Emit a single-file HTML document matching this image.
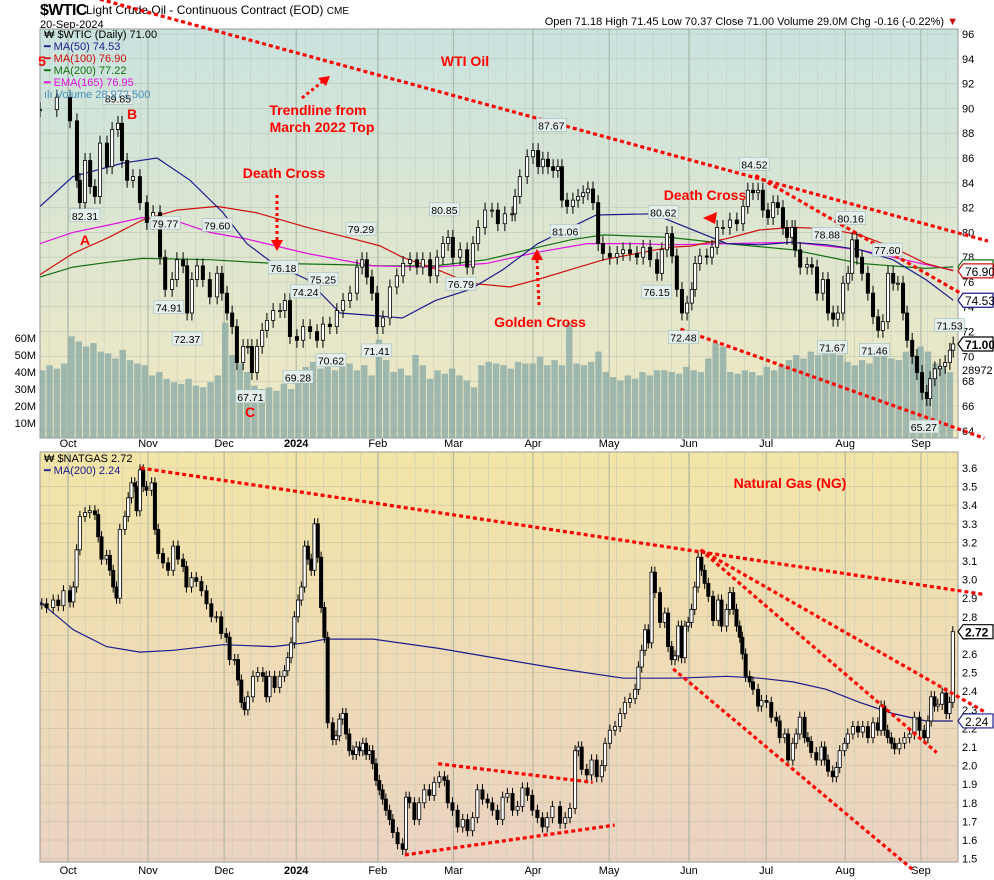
<!DOCTYPE html>
<html><head><meta charset="utf-8"><title>WTI and Natural Gas</title>
<style>
html,body{margin:0;padding:0;background:#fff;}
svg{display:block;font-family:"Liberation Sans",sans-serif;}
</style></head>
<body>
<svg id="chart" width="994" height="880" viewBox="0 0 994 880" xmlns="http://www.w3.org/2000/svg">
<defs>
<linearGradient id="gTop" x1="0" y1="0" x2="0" y2="1"><stop offset="0" stop-color="#c9e3df"/><stop offset="0.55" stop-color="#dfe6cf"/><stop offset="1" stop-color="#f1e8c0"/></linearGradient>
<linearGradient id="gBot" x1="0" y1="0" x2="0" y2="1"><stop offset="0" stop-color="#f2e5a6"/><stop offset="0.5" stop-color="#efdcb6"/><stop offset="1" stop-color="#ebd3c2"/></linearGradient>
<clipPath id="cTop"><rect x="40" y="29" width="918" height="409"/></clipPath>
<clipPath id="cBot"><rect x="40" y="452" width="918" height="410"/></clipPath>
</defs>
<g>
<text x="40" y="15" font-size="16" font-weight="bold" letter-spacing="-0.6">$WTIC</text>
<text x="86" y="14" font-size="12">Light Crude Oil - Continuous Contract (EOD) <tspan font-size="10">CME</tspan></text>
<text x="40" y="28" font-size="11">20-Sep-2024</text>
<text x="958" y="25" font-size="11" text-anchor="end">Open 71.18  High 71.45  Low 70.37  Close 71.00  Volume 29.0M  Chg -0.16 (-0.22%) <tspan fill="#c00">▼</tspan></text>
</g>
<rect x="40" y="29" width="918" height="409" fill="url(#gTop)" stroke="#999"/>
<rect x="40" y="452" width="918" height="410" fill="url(#gBot)" stroke="#999"/>
<g id="grid"></g>
<g id="vol" clip-path="url(#cTop)"></g>
<g id="wtiMarks" clip-path="url(#cTop)"></g>
<g id="ngMarks" clip-path="url(#cBot)"></g>
<g id="axes"></g>
<g id="annot"></g>
<g font-size="11">
<text x="44" y="38" fill="#000">₩ $WTIC (Daily) 71.00</text>
<text x="44" y="50" fill="#1c1c8c">━ MA(50) 74.53</text>
<text x="44" y="62" fill="#d01010">━ MA(100) 76.90</text>
<text x="44" y="74" fill="#157015">━ MA(200) 77.22</text>
<text x="44" y="86" fill="#e010e0">━ EMA(165) 76.95</text>
<text x="44" y="98" fill="#4a90b8">ılı Volume 28,972,500</text>
</g>
<g font-size="11">
<text x="44" y="462" fill="#000">₩ $NATGAS 2.72</text>
<text x="44" y="474" fill="#1c1c8c">━ MA(200) 2.24</text>
</g>
</svg>
<script>
// ---------- WTI data ----------
const wtiT=[0,4.6,8.2,10.1,10.9,12.3,13.7,15,16.4,18.3,19.7,21.3,22.4,23.8,25.4,27.3,29.2,30.9,32.8,34.2,36.1,37.4,39.1,40.2,41.5,42.9,44.5,46.4,48.4,49.7,51.1,52.5,53.8,55.5,56.8,57.9,59.3,60.7,62,63.7,65.6,66.9,68.3,70.2,71.9,73.8,75.7,77.3,79.2,81.1,82.8,84.7,86.6,88,89.3,90.7,92.1,93.7,95.6,97.5,99.2,101.1,103,104.6,106.6,108.5,110.1,111.5,112.8,114.8,116.7,118.3,119.7,121.6,123.5,125.1,127,129,129.8,131.1,133.1,134.7,136.1,137.4,138.8,140.2,141.5,142.6,144,145.6,147,148.4,149.7,151.1,152.5,153.8,155.7,157.7,159.3,161.2,163.1,164.8,166.7,168.6,169.9,171.3,172.7,174,175.4,176.8,178.1,179,180.3,182.2,183.6,185,186.6,188.5,190.4,192.1,193.4,194.8,196.2,197.5,198.9,200.3,201.6,203,204.1,205.5,206.3,207.7,209.6,210.9,212.3,213.9,215.3,216.7,218,219.4,220.8,221.9,223.2,224.6,226.2,227.6,229,230.3,231.7,233.1,234.4,235.8,236.9,238.3,239.6,241,242.3,243.2,244.5,245.9,247.3,248.6,249.5];
const wtiClose=[89.9,90.9,89,84.2,82.4,85.8,83.7,82.9,87.2,85.3,88.3,88.8,85.8,84.2,84.5,82.4,80.8,81.6,78,75.4,76.2,77.8,77.3,73.5,76.2,77.3,76.2,74.8,76.7,75.1,73.5,72.4,69.5,70.8,70.8,68.7,70.8,72.1,72.9,73.7,73.7,74.5,71.6,71.3,72.4,72,71.3,72.6,72.4,73.7,74.5,75.1,77.2,77.8,76.4,75.1,72.4,73.1,75.6,76.5,77.5,77.8,77.2,77.8,76.5,78,79.1,79.6,78,78.6,77.2,79.1,80.4,81.8,81.8,80.7,81.5,81.5,82.9,84.5,86.1,86.6,85.3,85.9,85.3,85,85.3,82.6,82.1,82.6,82.9,83.2,83.5,82.4,79.1,78.3,78,78.3,78.6,78.3,78,78.8,77.8,76.7,78.6,79.9,78.1,75.4,73.5,74.3,75.4,77.5,78.1,78,78.8,80.4,80.4,81,80.7,82.1,83.4,83.2,83.4,81.8,81.2,82.4,82,80.4,79.6,80.4,78.6,77.2,77.4,77.2,75.1,76.2,73.5,73,73.5,75.9,76.7,79.4,78,76.7,75.1,73.2,72.1,72.8,76.7,75.9,75.9,73.5,71.3,70,68.7,67.1,66.6,68.2,69,69.2,69.5,70.5,71];
const ma50T=[0,9,22.7,32,41,50,56.5,63.7,73,82,91,99,108,117.5,126.5,136,145,152,167.5,178.4,187.7,196.7,205.7,215,224,233,242,249.5];
const ma50V=[82.1,84.5,85.6,86,84.2,81.6,79.1,77.5,76.2,73.5,73.3,73.1,74.5,75.4,77,79.1,80.4,81.4,81.5,80.2,79.1,79,79.2,79,78.6,77.8,76.2,74.53];
const ma100T=[0,9,18.8,28,37.4,48.4,59,73,86.6,93,99,108.5,117.5,128.4,136,145,154,163,172,178,187.7,196.7,205.7,215,224,233,242,249.5];
const ma100V=[76.6,78.3,79.6,81,81.8,82.1,81.6,80.4,79.4,78.9,78,77,75.9,75.6,76.2,77,77.8,78.3,78.8,78.9,79.5,80.2,80.4,80.3,79.8,78.8,77.5,76.9];
const ma200T=[0,9,18.8,28,46.4,63.7,82,93,108,122,136,145,154,172,187.7,205.7,224,242,249.5];
const ma200V=[76.4,77.2,77.6,77.9,77.8,77.5,77.4,77.3,77.3,77.8,78.8,79.4,79.8,79.6,79.1,78.6,77.5,77.1,77.22];
const emaT=[0,9,18.8,28,37.4,46.4,56,73,91,108,122,136,149.5,163,172,187.7,205.7,224,233,242,249.5];
const emaV=[79.1,80,80.6,81.2,80.9,80,79.5,78.3,77.3,77.2,77.5,78.4,79.1,79.1,79,79.1,79.2,78.6,78,77.4,76.95];
const volM=[41,44,42,45,61,58,55,57,52,51,48,53,47,45,44,38,40,36,34,33,36,32,31,34,38,69,50,45,40,32,30,31,29,33,30,40,43,46,42,44,41,43,45,41,44,38,59,47,40,42,38,50,44,36,41,39,42,38,35,31,44,46,45,44,42,46,45,45,49,44,47,44,69,45,44,46,52,40,37,35,38,36,40,38,41,41,40,39,43,41,40,48,57,55,40,39,41,40,38,43,41,44,47,50,48,52,50,58,55,50,46,44,47,45,51,53,48,47,52,50,55,52,45,43,40];
// ---------- NatGas data ----------
const ngT=[0.5,1.8,3.6,5,6.4,8.2,9.1,10,10.9,12.3,13.6,15,15.9,16.8,18.2,19.1,20,20.9,21.8,23.2,24.1,25,25.9,26.4,27.3,28.2,29.1,30.5,31.4,32.3,33.6,35,36.4,37.7,39.1,40,41.4,42.7,44.1,45.5,46.8,48.2,49.5,50.9,51.8,53.2,54.1,55,55.9,56.8,58.2,59.5,60.9,61.8,62.7,64.1,65.5,66.8,67.7,68.6,69.5,70.5,71.4,72.3,73.2,74.1,75,75.9,76.8,77.7,78.6,80,80.9,81.8,82.7,83.6,84.5,85.5,86.4,87.3,88.2,89.1,90,90.9,91.8,92.7,93.6,94.5,95.5,96.4,97.7,99.1,100,100.9,102.3,103.6,105,106.4,107.7,109.1,110.5,111.4,112.7,114.1,115.5,116.8,118.2,119.5,120.9,122.3,123.6,125,126.4,127.7,129.1,130.5,131.8,133.2,134.5,135.9,137.3,138.6,140,142.1,143.5,144.8,146.2,147.1,148,149.4,150.7,152.1,153.5,154.4,155.7,157.1,158.5,159.8,161.2,162.6,163.5,164.4,165.3,166.2,167.1,168,169.4,170.7,171.6,172.6,173.5,174.4,175.3,176.2,177.1,178,178.9,179.8,180.7,181.6,182.6,183.9,185.3,186.2,187.6,188.5,189.4,190.3,191.2,191.9,192.8,193.9,194.8,196.2,197.1,198.5,199.8,201.2,202.1,203.5,204.4,205.7,206.6,207.6,208.9,209.8,210.7,212.1,213.5,214.4,215.3,216.6,217.6,218.5,219.8,220.7,222.1,223.5,224.8,226.2,227.6,228.9,229.8,230.7,231.6,232.6,233.5,234.8,236.2,237.6,238.9,240.3,241.6,242.6,243.5,244.4,245.3,246.5,247.6,248.5,249.4];
const ngClose=[2.87,2.85,2.89,2.86,2.94,2.88,2.96,3.16,3.34,3.36,3.37,3.35,3.23,3.11,3.13,3.05,2.96,2.90,3.27,3.34,3.44,3.52,3.50,3.37,3.59,3.50,3.48,3.52,3.27,3.14,3.09,3.05,3.18,3.11,3.07,2.96,3.01,2.99,2.94,2.87,2.80,2.80,2.71,2.69,2.57,2.57,2.46,2.34,2.30,2.37,2.48,2.50,2.48,2.37,2.48,2.42,2.48,2.51,2.58,2.66,2.80,2.89,2.96,3.18,3.11,3.05,3.30,3.12,2.85,2.69,2.23,2.14,2.16,2.25,2.28,2.17,2.08,2.06,2.10,2.08,2.12,2.06,2.08,2.01,1.92,1.87,1.82,1.76,1.71,1.64,1.58,1.55,1.83,1.80,1.71,1.80,1.87,1.84,1.91,1.94,1.92,1.80,1.76,1.67,1.71,1.65,1.72,1.87,1.82,1.80,1.76,1.71,1.83,1.85,1.76,1.78,1.88,1.84,1.76,1.72,1.67,1.72,1.78,1.69,1.72,1.77,2.08,2.10,1.98,1.95,2.03,1.94,2.00,2.12,2.19,2.21,2.28,2.34,2.36,2.41,2.53,2.62,2.73,2.66,3.04,2.93,2.77,2.82,2.64,2.57,2.59,2.75,2.58,2.75,2.77,2.84,2.96,3.12,3.05,2.98,2.91,2.78,2.89,2.75,2.84,2.93,2.84,2.75,2.69,2.60,2.48,2.45,2.41,2.32,2.35,2.34,2.26,2.24,2.15,2.17,2.03,2.12,2.17,2.26,2.15,2.13,2.07,2.03,2.10,2.03,1.97,1.94,1.99,2.08,2.12,2.17,2.21,2.18,2.21,2.15,2.23,2.19,2.32,2.19,2.15,2.12,2.09,2.12,2.15,2.17,2.26,2.19,2.15,2.24,2.37,2.32,2.33,2.39,2.28,2.34,2.72];
const ngMaT=[0,9.1,18.2,27.3,36.4,50,63.7,72.7,78,91,109,127,142.1,159.4,174,187.6,196.7,205.7,214.8,224,233,242.1,249.4];
const ngMaV=[2.88,2.73,2.64,2.61,2.62,2.65,2.64,2.66,2.68,2.68,2.63,2.57,2.52,2.47,2.47,2.48,2.47,2.45,2.41,2.34,2.28,2.24,2.24];
// axes
const monthLabels=["Oct","Nov","Dec","2024","Feb","Mar","Apr","May","Jun","Jul","Aug","Sep"];
const monthT=[7.7,29.5,50.3,70,92.3,113,134.7,155.5,177.3,198.4,220,240.7];
const wtiTicks=[64,66,68,70,72,74,76,78,80,82,84,86,88,90,92,94,96];
const ngTicks=[1.5,1.6,1.7,1.8,1.9,2.0,2.1,2.2,2.3,2.4,2.5,2.6,2.7,2.8,2.9,3.0,3.1,3.2,3.3,3.4,3.5,3.6];
const volTicks=[10,20,30,40,50,60];
// annotations (time, price)
const wtiTrendLines=[[[16.4,98.8],[259,79.3]],[[195.5,84.6],[258,74.0]],[[175,72.2],[258,63.4]]];
const ngTrendLines=[[[27.5,3.6],[258,2.92]],[[180.5,3.16],[258,2.29]],[[180.5,3.16],[245,2.07]],[[173,2.52],[238.5,1.44]],[[108.8,2.01],[151,1.91]],[[99.7,1.52],[157,1.68]]];
const wtiPeakLabels=[["89.85",21.3,89.85,1],["82.31",12.3,82.31,-1],["79.77",34.2,79.77,1],["79.60",48.4,79.6,1],["74.91",35.2,74.91,-1],["72.37",40.2,72.37,-1],["76.18",66.5,76.18,1],["75.25",77.3,75.25,1],["74.24",72.5,74.24,1],["67.71",57.5,67.71,-1],["69.28",70.5,69.28,-1],["70.62",79.5,70.62,-1],["79.29",87.7,79.29,1],["71.41",92,71.41,-1],["80.85",110.5,80.85,1],["76.79",115,76.79,-1],["81.06",143.5,81.06,-1],["87.67",139.7,87.67,1],["80.62",170.3,80.62,1],["76.15",168.5,76.15,-1],["72.48",175.8,72.48,-1],["84.52",195.2,84.52,1],["78.88",215,78.88,1],["80.16",221.5,80.16,1],["77.60",231.5,77.6,1],["71.67",216.5,71.67,-1],["71.46",228,71.46,-1],["71.53",248.5,71.53,1],["65.27",241.5,65.27,-1]];

const NS="http://www.w3.org/2000/svg";
const xS=t=>40+t*3.66;
const yW=p=>34+(96-p)*12.4;
const yN=p=>468+(3.6-p)*186;
const yV=v=>440-v*1.7;
function mk(tag,attrs,parent,txt){const e=document.createElementNS(NS,tag);for(const k in attrs)e.setAttribute(k,attrs[k]);if(txt!==undefined)e.textContent=txt;parent.appendChild(e);return e;}
const grid=document.getElementById('grid'),axes=document.getElementById('axes'),annot=document.getElementById('annot');
for(let t=2.5;t<250;t+=5){
 for(const [y1,y2] of [[29,438],[452,862]]){const l=mk('line',{x1:xS(t),x2:xS(t),y1:y1,y2:y2,stroke:'#b9c6b9','stroke-width':0.6,opacity:0.7},grid);
 
 }
}
monthT.forEach((t,i)=>{
 for(const [y1,y2] of [[29,438],[452,862]]){const l=mk('line',{x1:xS(t),x2:xS(t),y1:y1,y2:y2,stroke:'#9aa89a','stroke-width':1,opacity:0.8},grid);
 
 }
 for(const y of [447,874]){const tx=mk('text',{x:xS(t),y:y,'font-size':11,'text-anchor':'middle','font-weight':monthLabels[i]==='2024'?'bold':'normal'},axes,monthLabels[i]);
 
 }
});
wtiTicks.forEach(p=>{
 const l=mk('line',{x1:40,x2:958,y1:yW(p),y2:yW(p),stroke:'#b9c6b9','stroke-width':0.6},grid);
 
 
 const tx=mk('text',{x:962,y:yW(p)+4,'font-size':11},axes,String(p));
 
 
});
ngTicks.forEach(p=>{
 const l=mk('line',{x1:40,x2:958,y1:yN(p),y2:yN(p),stroke:'#c9c0a0','stroke-width':0.6},grid);
 
 
 const tx=mk('text',{x:962,y:yN(p)+4,'font-size':11},axes,p.toFixed(1));
 
 
});
volTicks.forEach(v=>{
 const tx=mk('text',{x:36,y:yV(v)+4,'font-size':11,'text-anchor':'end'},axes,v+'M');
 
 
});
const vg=document.getElementById('vol');
volM.forEach((v,i)=>{
 const r=mk('rect',{x:xS(i*2)-1,y:yV(v),width:6.4,height:440-yV(v),fill:'#86a8a6',opacity:0.75},vg);
 
 
});
function candles(T,C,ys,wick,g,name){
 T.forEach((t,i)=>{
  const c=C[i],o=i?C[i-1]:c;const hi=Math.max(o,c)+wick,lo=Math.min(o,c)-wick;const x=xS(t);
  const w=mk('line',{x1:x,x2:x,y1:ys(hi),y2:ys(lo),stroke:'#000','stroke-width':1},g);
  
  
  const top=ys(Math.max(o,c)),h=Math.max(1,Math.abs(ys(o)-ys(c)));
  const b=mk('rect',{x:x-1.6,y:top,width:3.2,height:h,fill:c<o?'#000':'#fff',stroke:'#000','stroke-width':0.8},g);
  
  
 });
}
function line(T,V,ys,color,g,name){
 const d=T.map((t,i)=>(i?'L':'M')+xS(t).toFixed(1)+','+ys(V[i]).toFixed(1)).join('');
 const p=mk('path',{d:d,fill:'none',stroke:color,'stroke-width':1.2},g);
 
 
}
const wg=document.getElementById('wtiMarks'),ng=document.getElementById('ngMarks');
line(ma200T,ma200V,yW,'#157015',wg,'ma200-line');
line(emaT,emaV,yW,'#e010e0',wg,'ema165-line');
line(ma100T,ma100V,yW,'#d01010',wg,'ma100-line');
line(ma50T,ma50V,yW,'#1c1c8c',wg,'ma50-line');
candles(wtiT,wtiClose,yW,0.6,wg,'wti');
line(ngMaT,ngMaV,yN,'#1c1c8c',ng,'ng-ma200-line');
candles(ngT,ngClose,yN,0.03,ng,'ng');
wtiTrendLines.forEach(s=>{const l=mk('line',{x1:xS(s[0][0]),y1:yW(s[0][1]),x2:xS(s[1][0]),y2:yW(s[1][1]),stroke:'#f00','stroke-width':3.2,'stroke-dasharray':'4 3'},annot);
 
 });
ngTrendLines.forEach(s=>{const l=mk('line',{x1:xS(s[0][0]),y1:yN(s[0][1]),x2:xS(s[1][0]),y2:yN(s[1][1]),stroke:'#f00','stroke-width':3.2,'stroke-dasharray':'4 3'},annot);
 
 });
wtiPeakLabels.forEach(([s,t,p,dir])=>{
 const x=xS(t),y=yW(p)+(dir>0?-12:12);
 const r=mk('rect',{x:x-15,y:y-7,width:30,height:13,fill:'#e6f0ee',stroke:'#9bb','stroke-width':0.6,opacity:0.95},annot);
 
 
 const tx=mk('text',{x:x,y:y+4,'font-size':10.5,'text-anchor':'middle'},annot,s);
 
 
});
const tags=[[yW(77.22),'77.22','#157015'],[yW(76.9),'76.90','#d01010'],[yW(74.53),'74.53','#1c1c8c'],[yW(71),'71.00','#000'],[yN(2.72),'2.72','#000'],[yN(2.24),'2.24','#1c1c8c']];
tags.forEach(([y,s,c])=>{
 const g=mk('g',{},annot);
 
 
 mk('path',{d:`M958,${y} l5,-7 h30 v14 h-30 z`,fill:'#fff',stroke:c,'stroke-width':1.2},g);
 mk('text',{x:965,y:y+5,'font-size':12,'font-weight':s==='71.00'||s==='2.72'?'bold':'normal',fill:'#000'},g,s);
});
const vt=mk('text',{x:962,y:yW(68.9)+4,'font-size':11,fill:'#000'},annot,'28972');


</script>
<div style="position:absolute;left:0;top:0;width:994px;height:880px;pointer-events:none">
<svg width="994" height="880" style="position:absolute;left:0;top:0">
<g font-family="Liberation Sans, sans-serif" font-weight="bold" fill="#f00" font-size="14">
<text x="465" y="66" text-anchor="middle">WTI Oil</text>
<text x="318" y="115" text-anchor="middle">Trendline from</text>
<text x="322" y="132" text-anchor="middle">March 2022 Top</text>
<text x="284" y="178" text-anchor="middle">Death Cross</text>
<text x="540" y="327" text-anchor="middle">Golden Cross</text>
<text x="705" y="200" text-anchor="middle">Death Cross</text>
<text x="85" y="245" text-anchor="middle">A</text>
<text x="132" y="119" text-anchor="middle">B</text>
<text x="250" y="417" text-anchor="middle">C</text>
<text x="42" y="66" text-anchor="middle">5</text>
<text x="790" y="488" text-anchor="middle">Natural Gas (NG)</text>
</g>
<g stroke="#f00" stroke-width="3" stroke-dasharray="3 3" fill="none">
<line x1="302" y1="98" x2="322" y2="82"/>
<line x1="277" y1="195" x2="277" y2="240"/>
<line x1="539" y1="305" x2="537" y2="260"/>
</g>
<g fill="#f00">
<path d="M330,76 l-12,2 l8,8 z"/>
<path d="M271,240 h12 l-6,11 z"/>
<path d="M531,260 h12 l-6,-11 z"/>
<path d="M703,218 l14,-6 l-2,12 z"/>
</g>
</svg>
</div>
</body></html>
